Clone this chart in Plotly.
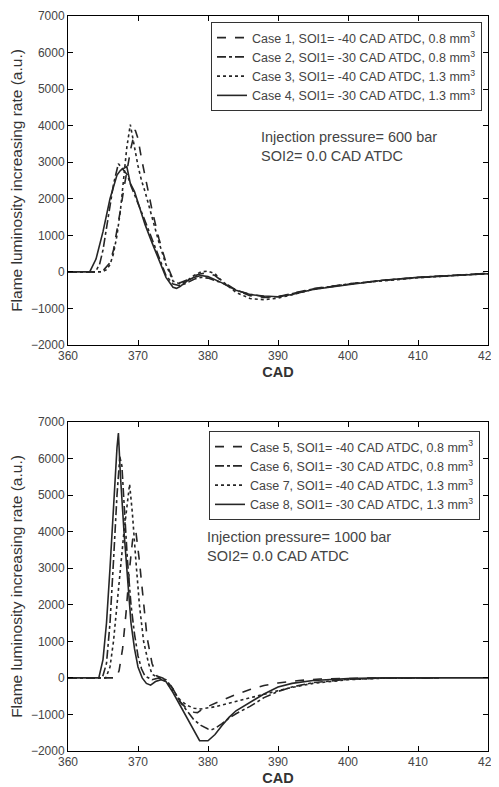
import plotly.graph_objects as go

# ---------------- data: top panel (600 bar) ----------------
case1_x = [360, 364.3, 365, 366, 366.5, 367, 367.5, 368, 368.5, 369, 369.6, 370, 370.5, 371, 372, 373, 374, 375, 376, 377, 378, 379, 380, 381, 382, 384, 386, 388, 390, 392, 395, 400, 405, 410, 415, 420]
case1_y = [0, 0, 30, 250, 600, 1100, 1700, 2300, 2900, 3400, 3880, 3650, 3100, 2600, 1700, 900, 250, -200, -300, -220, -110, -50, -30, -100, -250, -500, -650, -700, -680, -590, -460, -330, -230, -160, -100, -40]

case2_x = [360, 363.9, 364.5, 365, 365.5, 366, 366.5, 367.2, 368, 368.5, 369, 370, 371, 372, 373, 374, 375, 376, 377, 378, 379, 380, 382, 384, 386, 388, 390, 392, 395, 400, 405, 410, 415, 420]
case2_y = [0, 0, 200, 600, 1200, 1800, 2400, 2960, 2780, 2650, 2350, 1900, 1400, 900, 400, -100, -330, -380, -300, -200, -150, -170, -300, -500, -610, -680, -680, -600, -470, -340, -230, -150, -90, -40]

case3_x = [360, 364.8, 365.5, 366, 366.5, 367, 367.5, 368, 368.4, 368.9, 369.4, 370, 370.5, 371, 372, 373, 374, 375, 376, 377, 378, 379, 380, 381, 382, 384, 386, 388, 390, 392, 395, 400, 405, 410, 415, 420]
case3_y = [0, 0, 60, 200, 500, 1000, 1700, 2600, 3400, 4030, 3500, 2900, 2500, 2200, 1500, 800, 200, -250, -330, -240, -100, 0, 20, -50, -250, -560, -730, -760, -720, -620, -480, -330, -240, -160, -100, -50]

case4_x = [360, 363.1, 364, 365, 366, 367, 367.5, 368, 368.4, 368.9, 369.5, 370, 371, 372, 373, 374, 375, 375.5, 376, 377, 378, 379, 380, 382, 384, 386, 388, 390, 392, 395, 400, 405, 410, 415, 420]
case4_y = [0, 0, 350, 1100, 2000, 2650, 2780, 2830, 2880, 2420, 2200, 1900, 1300, 800, 300, -150, -420, -450, -400, -250, -150, -100, -130, -300, -500, -620, -660, -680, -620, -480, -350, -230, -150, -90, -50]

# ---------------- data: bottom panel (1000 bar) ----------------
case5_x = [360, 366.9, 367.3, 367.8, 368.3, 368.8, 369.3, 369.7, 370.2, 370.8, 371.3, 372, 372.7, 373.5, 374.3, 375, 376, 377, 378, 378.5, 379, 380, 382, 384, 386, 388, 390, 393, 396, 400, 405, 413]
case5_y = [0, 0, 200, 800, 1800, 3000, 3900, 4000, 3200, 2000, 1100, 400, 50, 0, -100, -300, -650, -850, -940, -950, -880, -780, -620, -450, -320, -210, -140, -70, -30, -10, 0, 0]

case6_x = [360, 364.9, 365.5, 366, 366.5, 367, 367.4, 367.7, 368, 368.5, 369, 369.5, 370, 370.5, 371, 372, 373, 374, 375, 376, 377, 378, 379, 380, 380.5, 381, 382, 383, 384, 386, 388, 390, 392, 395, 400, 405, 413]
case6_y = [0, 0, 400, 1500, 3200, 5000, 6050, 5800, 4800, 3200, 2000, 1200, 600, 250, 50, -50, 0, -50, -300, -650, -900, -1150, -1300, -1400, -1420, -1380, -1250, -1100, -980, -780, -540, -370, -250, -130, -40, -5, 0]

case7_x = [360, 365.4, 366, 366.5, 367, 367.5, 368, 368.8, 369.2, 369.7, 370.2, 370.8, 371.5, 372, 373, 374, 375, 376, 377, 378, 379, 380, 381, 382, 384, 386, 388, 390, 392, 395, 400, 405, 413]
case7_y = [0, 0, 300, 1000, 2000, 3000, 4000, 5300, 4500, 3200, 2000, 1000, 400, 100, 0, -100, -350, -600, -750, -830, -850, -830, -790, -740, -650, -550, -450, -350, -260, -150, -50, -10, 0]

case8_x = [360, 364.4, 365, 365.5, 366, 366.5, 367, 367.2, 367.5, 368, 368.5, 369, 369.5, 370, 370.6, 371.2, 371.8, 372.5, 373.3, 374, 375, 376, 377, 378, 378.8, 380, 381, 382, 383, 384, 386, 388, 390, 392, 395, 400, 405, 420]
case8_y = [0, 0, 500, 1500, 3000, 4800, 6300, 6700, 5500, 4000, 2600, 1500, 800, 300, 0, -150, -200, -100, -50, -100, -400, -750, -1100, -1450, -1720, -1720, -1550, -1300, -1080, -900, -680, -440, -250, -150, -70, -20, 0, 0]

legend_top = [
    "Case 1, SOI1= -40 CAD ATDC, 0.8 mm<sup>3</sup>",
    "Case 2, SOI1= -30 CAD ATDC, 0.8 mm<sup>3</sup>",
    "Case 3, SOI1= -40 CAD ATDC, 1.3 mm<sup>3</sup>",
    "Case 4, SOI1= -30 CAD ATDC, 1.3 mm<sup>3</sup>",
]
legend_bot = [
    "Case 5, SOI1= -40 CAD ATDC, 0.8 mm<sup>3</sup>",
    "Case 6, SOI1= -30 CAD ATDC, 0.8 mm<sup>3</sup>",
    "Case 7, SOI1= -40 CAD ATDC, 1.3 mm<sup>3</sup>",
    "Case 8, SOI1= -30 CAD ATDC, 1.3 mm<sup>3</sup>",
]
x_ticks = [360, 370, 380, 390, 400, 410, 420]
y_ticks = [-2000, -1000, 0, 1000, 2000, 3000, 4000, 5000, 6000, 7000]

LINE = "#262626"
TEXT = "#444444"
FONT = "Liberation Sans, Arial, sans-serif"
dashes = ["dash", "dashdot", "dot", "solid"]

fig = go.Figure()
top = [(case1_x, case1_y), (case2_x, case2_y), (case3_x, case3_y), (case4_x, case4_y)]
bot = [(case5_x, case5_y), (case6_x, case6_y), (case7_x, case7_y), (case8_x, case8_y)]
for (xs, ys), name, d in zip(top, legend_top, dashes):
    fig.add_trace(go.Scatter(x=xs, y=ys, mode="lines", name=name, xaxis="x", yaxis="y",
                             line=dict(color=LINE, width=1.6, dash=d), legend="legend"))
for (xs, ys), name, d in zip(bot, legend_bot, dashes):
    fig.add_trace(go.Scatter(x=xs, y=ys, mode="lines", name=name, xaxis="x2", yaxis="y2",
                             line=dict(color=LINE, width=1.6, dash=d), legend="legend2"))

# page has an 8px body margin: figure is drawn 8px right/down
OFF = 8
W, H = 499, 787 - OFF
L, R = 68 - OFF, 488 - OFF
PW = R - L


def py(page_y):
    return 1 - (page_y - OFF) / H


def px(page_x):
    return (page_x - OFF - L) / PW


axis_common = dict(showline=True, linecolor="black", linewidth=1, mirror="allticks",
                   ticks="inside", ticklen=5, tickcolor="black", showgrid=False, zeroline=False,
                   automargin=False, ticklabeloverflow="allow",
                   tickfont=dict(family=FONT, size=12, color=TEXT))
xcommon = dict(axis_common, range=[360, 420], tickvals=x_ticks)
ycommon = dict(axis_common, range=[-2000, 7000], tickvals=y_ticks)
xtitle = dict(text="<b>CAD</b>", font=dict(size=14.5, color="#333"), standoff=4)
ytitle = dict(text="Flame luminosity increasing rate (a.u.)", font=dict(size=15.5, color="#333"), standoff=4)

fig.update_layout(
    width=W, height=H,
    margin=dict(l=L, r=W - R, t=0, b=0, autoexpand=False),
    paper_bgcolor="white", plot_bgcolor="white",
    font=dict(family=FONT, color=TEXT),
    xaxis=dict(xcommon, anchor="y", domain=[0, 1], title=xtitle),
    yaxis=dict(ycommon, anchor="x", domain=[py(345), py(16)], title=ytitle),
    xaxis2=dict(xcommon, anchor="y2", domain=[0, 1], title=xtitle),
    yaxis2=dict(ycommon, anchor="x2", domain=[py(751), py(422)], title=ytitle),
    legend=dict(x=px(482), xanchor="right", y=py(22), yanchor="top",
                bordercolor="#333", borderwidth=1, bgcolor="white",
                font=dict(family=FONT, size=12.5, color=TEXT), tracegroupgap=0),
    legend2=dict(x=px(480), xanchor="right", y=py(431), yanchor="top",
                 bordercolor="#333", borderwidth=1, bgcolor="white",
                 font=dict(family=FONT, size=12.5, color=TEXT), tracegroupgap=0),
    showlegend=True,
    annotations=[
        dict(text="Injection pressure= 600 bar<br>SOI2= 0.0 CAD ATDC", xref="paper", yref="paper",
             x=px(259), y=py(127), xanchor="left", yanchor="top", align="left",
             showarrow=False, font=dict(family=FONT, size=14.5, color=TEXT)),
        dict(text="Injection pressure= 1000 bar<br>SOI2= 0.0 CAD ATDC", xref="paper", yref="paper",
             x=px(205), y=py(527), xanchor="left", yanchor="top", align="left",
             showarrow=False, font=dict(family=FONT, size=14.5, color=TEXT)),
    ],
)

fig.write_html("out.html")
